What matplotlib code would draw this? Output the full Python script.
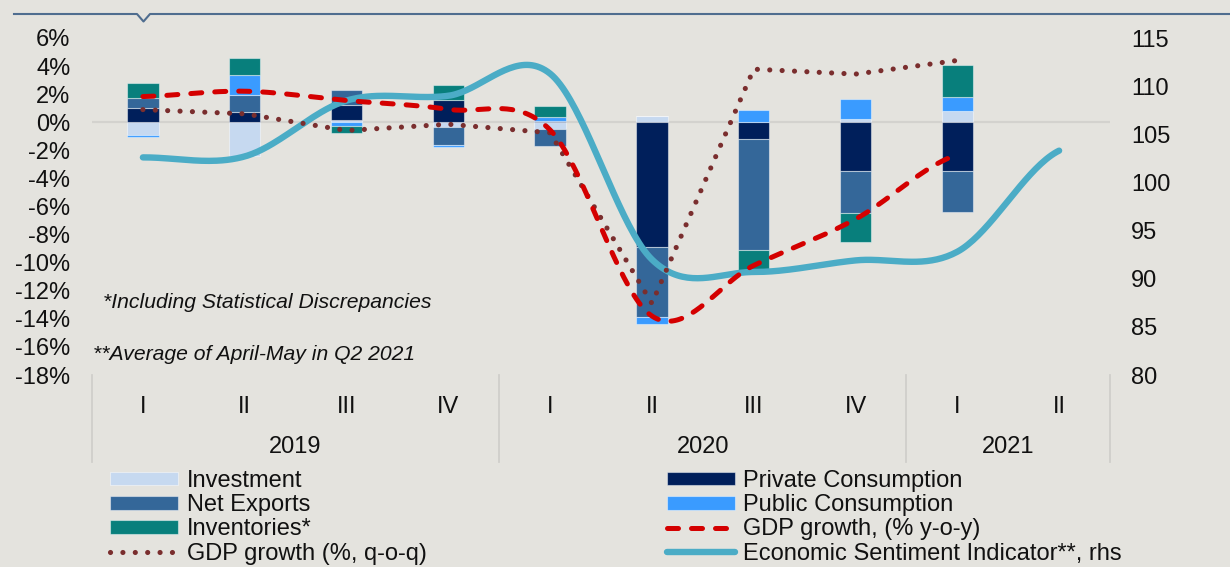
import numpy as np
import matplotlib
matplotlib.use("Agg")
import matplotlib.pyplot as plt
from matplotlib.patches import Patch
from matplotlib.lines import Line2D

# ---------------- data ----------------
quarters = ['I', 'II', 'III', 'IV', 'I', 'II', 'III', 'IV', 'I', 'II']
years = ['2019', '2020', '2021']
year_spans = [(0, 3), (4, 7), (8, 9)]

investment = [-0.90, -2.38, 0.15, -0.35, -0.47, 0.43, 0.00, 0.25, 0.83]
private_cons = [1.02, 0.71, 1.05, 1.62, 0.12, -8.90, -1.19, -3.44, -3.44]
net_exports = [0.69, 1.24, 1.10, -1.30, -1.19, -4.94, -7.89, -3.04, -2.97]
public_cons = [-0.15, 1.45, -0.25, -0.13, 0.28, -0.52, 0.88, 1.38, 0.95]
inventories = [1.09, 1.19, -0.50, 1.00, 0.74, 0.00, -1.50, -2.07, 2.30]

gdp_yoy = [1.83, 2.21, 1.55, 0.92, -0.55, -13.80, -10.20, -6.90, -2.32]
gdp_qoq = [0.90, 0.60, -0.59, -0.14, -0.75, -12.90, 3.78, 3.43, 4.40]
esi = [102.6, 102.7, 108.5, 109.0, 111.3, 92.0, 90.7, 91.9, 92.8, 103.3]

left_ticks = list(range(-18, 7, 2))
right_ticks = list(range(80, 116, 5))

# ---------------- style ----------------
BG = '#E4E3DE'
FONT = ['Liberation Sans', 'DejaVu Sans']
plt.rcParams['font.family'] = FONT

series = [
    ('Investment', investment, '#C6D9F0'),
    ('Private Consumption', private_cons, '#001F5B'),
    ('Net Exports', net_exports, '#346799'),
    ('Public Consumption', public_cons, '#3A9BFF'),
    ('Inventories*', inventories, '#087F7C'),
]
C_YOY = '#D40000'
C_QOQ = '#7A2E2E'
C_ESI = '#4BACC6'


def smooth(ys, n=40):
    """Catmull-Rom (Excel-like smoothed line) through points at x = 0..len-1."""
    y = np.asarray(ys, float)
    k = len(y)
    xs_out, ys_out = [], []
    for i in range(k - 1):
        p0 = y[i - 1] if i > 0 else y[i]
        p1, p2 = y[i], y[i + 1]
        p3 = y[i + 2] if i + 2 < k else y[i + 1]
        m1 = (p2 - p0) / 2.0
        m2 = (p3 - p1) / 2.0
        t = np.linspace(0, 1, n, endpoint=(i == k - 2))
        h00 = 2 * t**3 - 3 * t**2 + 1
        h10 = t**3 - 2 * t**2 + t
        h01 = -2 * t**3 + 3 * t**2
        h11 = t**3 - t**2
        xs_out.append(i + t)
        ys_out.append(h00 * p1 + h10 * m1 + h01 * p2 + h11 * m2)
    return np.concatenate(xs_out), np.concatenate(ys_out)


W, H = 1230, 567
fig = plt.figure(figsize=(W / 100, H / 100), dpi=100, facecolor=BG)

ax_l, ax_r, ax_t, ax_b = 92, 1110, 38, 375
ax = fig.add_axes([ax_l / W, 1 - ax_b / H, (ax_r - ax_l) / W, (ax_b - ax_t) / H])
ax.set_facecolor(BG)

x = np.arange(len(investment))
bw = 0.31
pos_base = np.zeros(len(x))
neg_base = np.zeros(len(x))
for name, vals, col in series:
    v = np.asarray(vals, float)
    bottoms = np.where(v >= 0, pos_base, neg_base)
    ax.bar(x, v, bw, bottom=bottoms, color=col, edgecolor=(1, 1, 1, 0.45),
           linewidth=0.8, zorder=3)
    pos_base += np.where(v >= 0, v, 0)
    neg_base += np.where(v < 0, v, 0)

ax.axhline(0, color='#D3D2CE', lw=1.6, zorder=1)

ax.set_xlim(-0.5, len(quarters) - 0.5)
ax.set_ylim(-18, 6)
ax.set_yticks(left_ticks)
ax.set_yticklabels([f'{t}%' for t in left_ticks])
ax.set_xticks(range(len(quarters)))
ax.set_xticklabels(quarters)
ax.tick_params(axis='y', length=0, pad=15.5, labelsize=17, colors='#111111')
ax.tick_params(axis='x', length=0, pad=15, labelsize=17, colors='#111111')
for s in ax.spines.values():
    s.set_visible(False)

# year labels and category separators
xt = ax.get_xaxis_transform()
for yr, (a, b) in zip(years, year_spans):
    ax.text((a + b) / 2, -(447 - ax_b) / (ax_b - ax_t), yr, transform=xt,
            ha='center', va='center', fontsize=17, color='#111111')
sep_pos = [year_spans[0][0] - 0.5] + [b + 0.5 for (_, b) in year_spans]
for sx in sep_pos:
    ax.plot([sx, sx], [0, -(462 - ax_b) / (ax_b - ax_t)], transform=xt,
            color='#D0CFCB', lw=1.3, clip_on=False, zorder=0)

# right axis: ESI
ax2 = ax.twinx()
ax2.set_ylim(80, 115)
ax2.set_yticks(right_ticks)
ax2.tick_params(axis='y', length=0, pad=15, labelsize=17, colors='#111111')
for s in ax2.spines.values():
    s.set_visible(False)
ex, ey = smooth(esi)
ax2.plot(ex, ey, color=C_ESI, lw=4.6, solid_capstyle='round', zorder=4)

# GDP lines (left scale, drawn on top)
ax3 = ax.twinx()
ax3.set_ylim(ax.get_ylim())
ax3.set_yticks([])
for s in ax3.spines.values():
    s.set_visible(False)
ax3.plot(np.arange(len(gdp_qoq)), gdp_qoq, color=C_QOQ, lw=3.7,
         linestyle=(0, (0.01, 2.4)), dash_capstyle='round', zorder=5)
yx, yy = smooth(gdp_yoy)
ax3.plot(yx, yy, color=C_YOY, lw=3.6, linestyle=(0, (2.2, 2.6)),
         dash_capstyle='round', zorder=6)

# notes
fig.text(103 / W, 1 - 302 / H, '*Including Statistical Discrepancies',
         fontsize=15.2, style='italic', ha='left', va='center', color='#111111')
fig.text(93 / W, 1 - 355 / H, '**Average of April-May in Q2 2021',
         fontsize=15.2, style='italic', ha='left', va='center', color='#111111')

# top decoration line with notch
fig.add_artist(Line2D([14 / W, 137 / W, 143.5 / W, 150 / W, 1.0],
                      [1 - 14 / H, 1 - 14 / H, 1 - 21.5 / H, 1 - 14 / H, 1 - 14 / H],
                      transform=fig.transFigure, color='#4F6D8F', lw=1.5))

# legend (row-wise order via column-wise reorder)
h = {}
for name, vals, col in series:
    h[name] = Patch(facecolor=col, edgecolor=(1, 1, 1, 0.45), linewidth=0.8)
h['GDP growth, (% y-o-y)'] = Line2D([], [], color=C_YOY, lw=3.6,
                                     linestyle=(0, (2.2, 2.6)), dash_capstyle='round')
h['GDP growth (%, q-o-q)'] = Line2D([], [], color=C_QOQ, lw=3.7,
                                     linestyle=(0, (0.01, 2.4)), dash_capstyle='round')
h['Economic Sentiment Indicator**, rhs'] = Line2D([], [], color=C_ESI, lw=4.6,
                                                   solid_capstyle='round')
order = ['Investment', 'Net Exports', 'Inventories*', 'GDP growth (%, q-o-q)',
         'Private Consumption', 'Public Consumption', 'GDP growth, (% y-o-y)',
         'Economic Sentiment Indicator**, rhs']
leg = fig.legend([h[k] for k in order], order, ncol=2, loc='upper left',
                 bbox_to_anchor=(110 / W, 1 - 470 / H), bbox_transform=fig.transFigure,
                 frameon=False, fontsize=17, handlelength=2.9, handleheight=0.5,
                 handletextpad=0.35, columnspacing=10.17, labelspacing=0.095,
                 borderpad=0, borderaxespad=0)
for t in leg.get_texts():
    t.set_color('#111111')

fig.savefig('out.png', dpi=100, facecolor=BG)
